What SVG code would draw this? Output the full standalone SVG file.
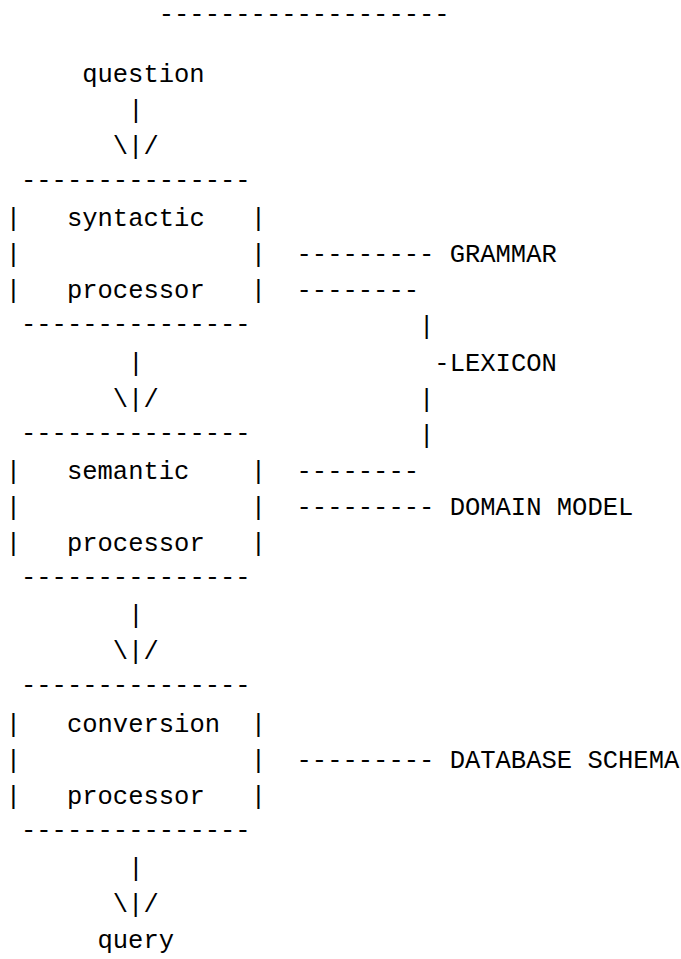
<svg xmlns="http://www.w3.org/2000/svg" width="681" height="959" viewBox="0 0 681 959">
<style>
text { font-family: "Liberation Mono", "DejaVu Sans Mono", monospace; font-size: 25.52px; fill: #000; white-space: pre; }
</style>
<rect width="681" height="959" fill="#fff"/>
<g id="top-rule"><text x="158.75" y="22" xml:space="preserve">-------------------</text></g>
<g id="question"><text x="82.2" y="81.7">question</text></g>
<g id="syntactic-processor">
<text x="20.96" y="188.0" xml:space="preserve">---------------</text>
<text x="5.65" y="226.1" xml:space="preserve">|   syntactic   |</text>
<text x="5.65" y="262.2" xml:space="preserve">|               |</text>
<text x="5.65" y="298.3" xml:space="preserve">|   processor   |</text>
<text x="20.96" y="332.4" xml:space="preserve">---------------</text>
</g>
<g id="semantic-processor">
<text x="20.96" y="440.7" xml:space="preserve">---------------</text>
<text x="5.65" y="478.8" xml:space="preserve">|   semantic    |</text>
<text x="5.65" y="514.9" xml:space="preserve">|               |</text>
<text x="5.65" y="551.0" xml:space="preserve">|   processor   |</text>
<text x="20.96" y="585.1" xml:space="preserve">---------------</text>
</g>
<g id="conversion-processor">
<text x="20.96" y="693.4" xml:space="preserve">---------------</text>
<text x="5.65" y="731.5" xml:space="preserve">|   conversion  |</text>
<text x="5.65" y="767.6" xml:space="preserve">|               |</text>
<text x="5.65" y="803.7" xml:space="preserve">|   processor   |</text>
<text x="20.96" y="837.8" xml:space="preserve">---------------</text>
</g>
<g id="query"><text x="97.51" y="948.1">query</text></g>
<g id="grammar"><text x="449.64" y="262.2">GRAMMAR</text></g>
<g id="lexicon"><text x="434.33" y="370.5">-LEXICON</text></g>
<g id="domain-model"><text x="449.64" y="514.9">DOMAIN MODEL</text></g>
<g id="database-schema"><text x="449.64" y="767.6">DATABASE SCHEMA</text></g>
<g id="connectors">
<text x="128.13" y="117.8">|</text>
<text x="112.82" y="153.9" xml:space="preserve">\|/</text>
<text x="128.13" y="370.5">|</text>
<text x="112.82" y="406.6" xml:space="preserve">\|/</text>
<text x="128.13" y="623.2">|</text>
<text x="112.82" y="659.3" xml:space="preserve">\|/</text>
<text x="128.13" y="875.9">|</text>
<text x="112.82" y="912.0" xml:space="preserve">\|/</text>
<text x="296.54" y="262.2" xml:space="preserve">---------</text>
<text x="296.54" y="298.3" xml:space="preserve">--------</text>
<text x="419.02" y="334.4">|</text>
<text x="419.02" y="406.6">|</text>
<text x="419.02" y="442.7">|</text>
<text x="296.54" y="478.8" xml:space="preserve">--------</text>
<text x="296.54" y="514.9" xml:space="preserve">---------</text>
<text x="296.54" y="767.6" xml:space="preserve">---------</text>
</g>
</svg>
